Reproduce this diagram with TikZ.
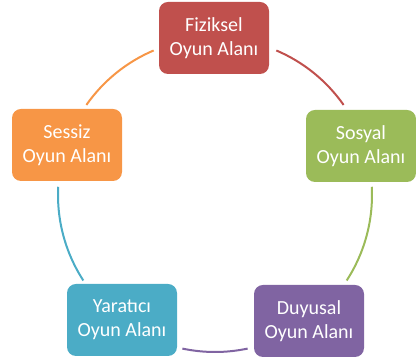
\documentclass[tikz,border=0pt]{standalone}
\usepackage{fontspec}
\setmainfont{Carlito}
\definecolor{cred}{HTML}{C0504D}
\definecolor{cgreen}{HTML}{9BBB59}
\definecolor{cpurple}{HTML}{8064A2}
\definecolor{cblue}{HTML}{4BACC6}
\definecolor{corange}{HTML}{F79646}
\begin{document}
\begin{tikzpicture}[x=1pt,y=1pt,
  box/.style={rounded corners=9pt, minimum width=110pt, minimum height=72pt,
    text=white, align=center, font=\fontsize{20}{24}\selectfont, inner sep=0pt},
  link/.style={line width=2pt}]
\useasboundingbox (0,0) rectangle (416,363);
\coordinate (c) at (215,168);
\node[box, fill=cred] (fiz) at (214,325) {Fiziksel\\Oyun Alanı};
\node[box, fill=cgreen] (sos) at (361,217) {Sosyal\\Oyun Alanı};
\node[box, fill=cpurple] (duy) at (309,42) {Duyusal\\Oyun Alanı};
\node[box, fill=cblue] (yar) at (122,43) {Yaratıcı\\Oyun Alanı};
\node[box, fill=corange] (ses) at (67,218) {Sessiz\\Oyun Alanı};
\draw[link, cred] ([shift={(67:157)}]c) arc[start angle=67, end angle=35, radius=157];
\draw[link, cgreen] ([shift={(3:157)}]c) arc[start angle=3, end angle=-33, radius=157];
\draw[link, cpurple] ([shift={(-78:157)}]c) arc[start angle=-78, end angle=-102, radius=157];
\draw[link, cblue] ([shift={(213:157)}]c) arc[start angle=213, end angle=177, radius=157];
\draw[link, corange] ([shift={(145:157)}]c) arc[start angle=145, end angle=113, radius=157];
\end{tikzpicture}
\end{document}
